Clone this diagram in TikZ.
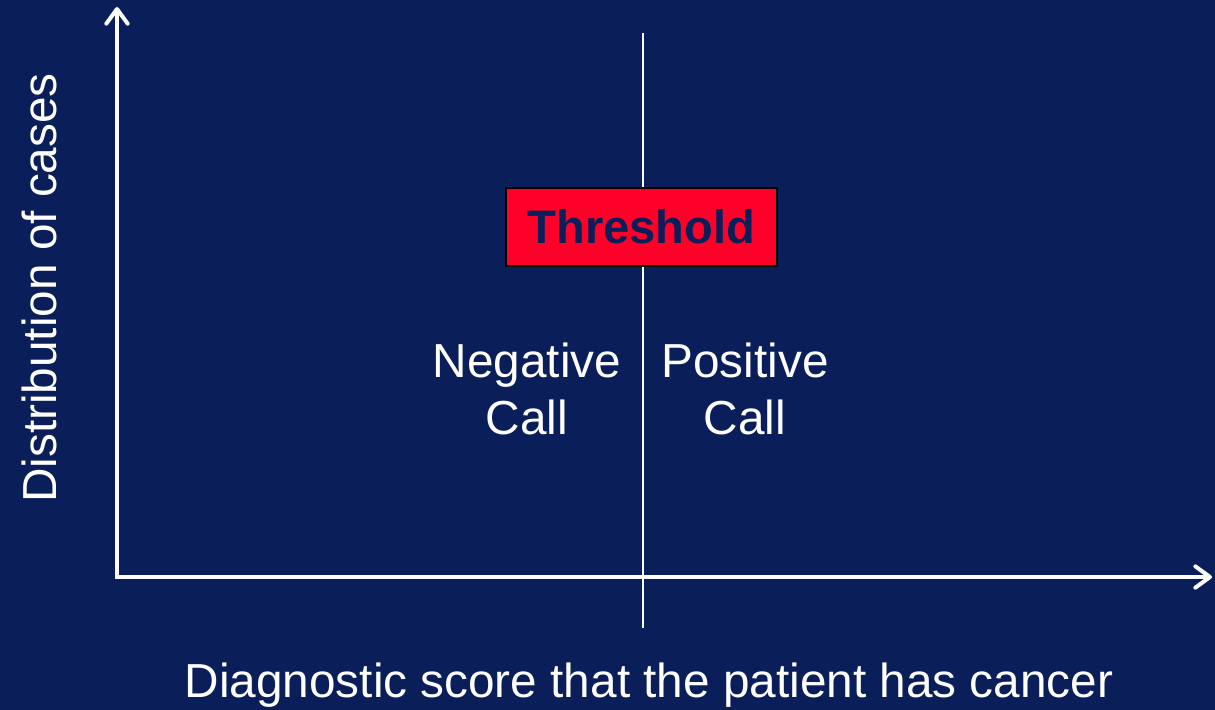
\documentclass[tikz,border=0pt]{standalone}
\usepackage{fontspec}
\setmainfont{Liberation Sans}
\usetikzlibrary{arrows.meta, positioning}
\definecolor{navy}{RGB}{10,30,90}
\definecolor{alarm}{RGB}{255,0,40}

\begin{document}
\begin{tikzpicture}[x=0.75pt, y=-0.75pt,
    axis/.style={white, line width=3pt, -{Straight Barb[length=11pt, width=16pt, line cap=round, line join=round]}},
    label/.style={white, font=\fontsize{35.8}{43}\selectfont, inner sep=0pt},
    callnote/.style={label, align=center}]
% background and frame
\fill[navy] (0,0) rectangle (1215,710);
\useasboundingbox (0,0) rectangle (1215,710);

% axes
\coordinate (origin) at (117,577);
\coordinate (ytop) at (117,7);
\coordinate (xend) at (1212,577);
\draw[axis] ([yshift=-1.5pt]origin) -- (ytop);
\draw[axis] ([xshift=-1.5pt]origin) -- (xend);

% threshold line
\coordinate (cuttop) at (643,33);
\coordinate (cutbot) at (643,628);
\draw[white, line width=1.9pt] (cuttop) -- (cutbot);
\node[fill=alarm, draw=black, line width=1.5pt, minimum width=271*0.75pt, minimum height=78*0.75pt,
    text=navy, font=\fontsize{35.3}{43}\selectfont\bfseries] (threshold) at (641.5,227) {Threshold};

% calls
\node[callnote] (negcall) at (527,389) {Negative\\Call};
\node[callnote] (poscall) at (745,389) {Positive\\Call};

% axis labels
\node[label, rotate=90] (ylabel) at (39,288) {Distribution of cases};
\node[label, anchor=base] (xlabel) at (649,697) {Diagnostic score that the patient has cancer};
\end{tikzpicture}
\end{document}
